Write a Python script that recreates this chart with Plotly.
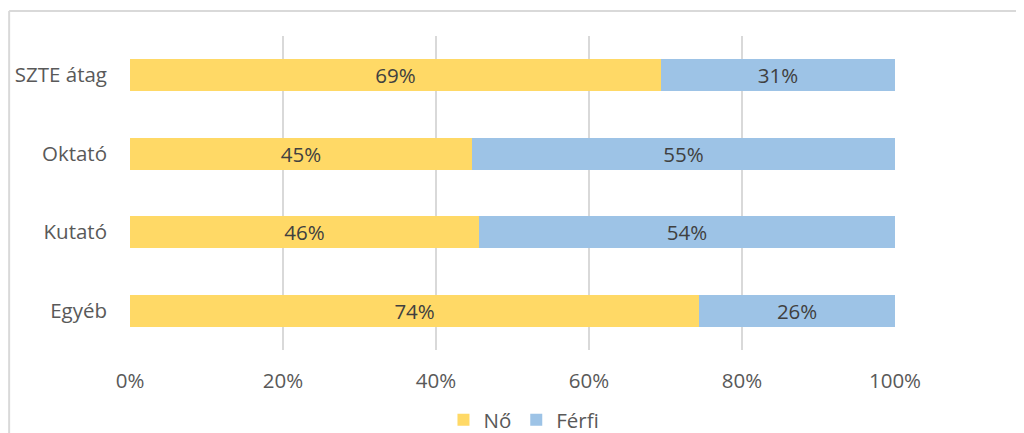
import plotly.graph_objects as go

categories = ["SZTE átag", "Oktató", "Kutató", "Egyéb"]
no_values = [69.4, 44.7, 45.6, 74.4]
ferfi_values = [30.6, 55.3, 54.4, 25.6]
no_labels = ["69%", "45%", "46%", "74%"]
ferfi_labels = ["31%", "55%", "54%", "26%"]
tick_vals = [0, 20, 40, 60, 80, 100]
tick_text = ["0%", "20%", "40%", "60%", "80%", "100%"]

FONT = "Open Sans"
TXT = "#595959"
FS = 20.5

fig = go.Figure()
fig.add_trace(go.Bar(
    y=categories, x=no_values, name="Nő", orientation="h",
    marker=dict(color="#FFD966", line=dict(width=0)),
    text=no_labels, textposition="inside", insidetextanchor="middle",
    constraintext="none",
    textfont=dict(color="#404040", size=FS, family=FONT),
))
fig.add_trace(go.Bar(
    y=categories, x=ferfi_values, name="Férfi", orientation="h",
    marker=dict(color="#9DC3E6", line=dict(width=0)),
    text=ferfi_labels, textposition="inside", insidetextanchor="middle",
    constraintext="none",
    textfont=dict(color="#404040", size=FS, family=FONT),
))

fig.update_layout(
    width=1024, height=433,
    barmode="stack", bargap=0.59,
    paper_bgcolor="white", plot_bgcolor="white",
    margin=dict(l=122, r=137, t=28, b=91, autoexpand=False),
    font=dict(family=FONT, size=FS, color=TXT),
    xaxis=dict(
        range=[0, 100], tickvals=tick_vals, ticktext=tick_text,
        showgrid=True, gridcolor="#D9D9D9", gridwidth=2,
        zeroline=False, showline=False, automargin=False,
        ticks="", ticklabelstandoff=16,
        tickfont=dict(size=FS, color=TXT, family=FONT),
    ),
    yaxis=dict(
        categoryorder="array", categoryarray=categories[::-1],
        showgrid=False, zeroline=False, showline=False, automargin=False,
        ticks="", ticklabelstandoff=22,
        tickfont=dict(size=FS, color=TXT, family=FONT),
    ),
    legend=dict(
        orientation="h", x=0.515, xanchor="center", y=-0.223, yanchor="middle",
        font=dict(size=FS, color=TXT, family=FONT),
        itemwidth=30, traceorder="normal",
    ),
    showlegend=True,
    shapes=[
        dict(type="line", xref="paper", yref="paper",
             x0=-0.158, x1=1.3, y0=1.0796, y1=1.0796,
             line=dict(color="#D9D9D9", width=2)),
        dict(type="line", xref="paper", yref="paper",
             x0=-0.158, x1=-0.158, y0=1.0796, y1=-0.4,
             line=dict(color="#D9D9D9", width=2)),
    ],
)

fig.write_html("out.html")
